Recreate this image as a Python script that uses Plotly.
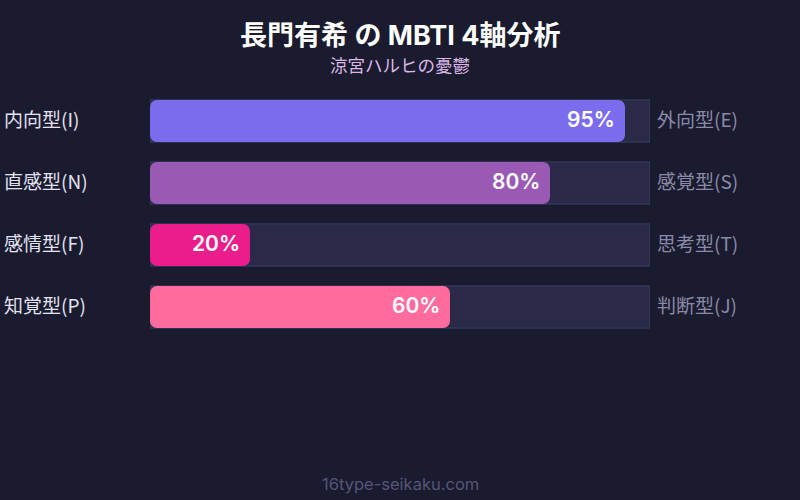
import plotly.graph_objects as go

left_labels = ["内向型(I)", "直感型(N)", "感情型(F)", "知覚型(P)"]
right_labels = ["外向型(E)", "感覚型(S)", "思考型(T)", "判断型(J)"]
values = [95, 80, 20, 60]
colors = ["#7b6cee", "#9b59b6", "#e91e8c", "#ff6b9d"]
title = "長門有希 の MBTI 4軸分析"
subtitle = "涼宮ハルヒの憂鬱"
footer = "16type-seikaku.com"

FONT = "Inter, 'Noto Sans CJK JP', sans-serif"
CJK = "'Noto Sans CJK JP', Inter, sans-serif"
BG = "#1a1b2e"
ypos = list(range(len(values)))
PLOT_H = 248  # px, plot area height (t=90, b=162)
BAR_W = 0.68

def py(pix):
    """pixel y from top -> paper y"""
    return (338 - pix) / PLOT_H

fig = go.Figure()
# explicit base so that both ends of each bar get rounded corners
fig.add_trace(go.Bar(
    x=values, base=[0] * len(values), y=ypos, orientation="h", width=BAR_W,
    marker=dict(color=colors, line=dict(width=0), cornerradius=7),
    hoverinfo="skip", showlegend=False,
))

shapes = []
for i in ypos:
    shapes.append(dict(type="rect", xref="x", yref="y", x0=0, x1=100,
                       y0=i - BAR_W / 2, y1=i + BAR_W / 2, layer="below",
                       fillcolor="#2a2a48", line=dict(color="#3e3e62", width=1)))

ann = []
for i, (v, l, r) in enumerate(zip(values, left_labels, right_labels)):
    ann.append(dict(x=v, y=i, xref="x", yref="y", text=f"{v}%", showarrow=False, yshift=2,
                    xanchor="right", xshift=-8, font=dict(size=21, color="#ffffff", family=FONT, weight=600)))
    ann.append(dict(x=-0.296, y=i, xref="paper", yref="y", text=l, showarrow=False, yshift=3,
                    xanchor="left", font=dict(size=19, color="#e2e2f2", family=CJK)))
    ann.append(dict(x=1.01, y=i, xref="paper", yref="y", text=r, showarrow=False, yshift=3,
                    xanchor="left", font=dict(size=19, color="#8a8aa8", family=CJK)))

ann.append(dict(x=0.5, y=py(35), xref="paper", yref="paper", text=f"<b>{title}</b>",
                showarrow=False, yanchor="middle", font=dict(size=27, color="#ffffff", family=FONT)))
ann.append(dict(x=0.5, y=py(64), xref="paper", yref="paper", text=subtitle,
                showarrow=False, yanchor="middle", font=dict(size=17.5, color="#dcb8e6", family=CJK)))
ann.append(dict(x=0.5, y=py(484), xref="paper", yref="paper", text=footer,
                showarrow=False, yanchor="middle", font=dict(size=16.5, color="#55557a", family=FONT)))

fig.update_layout(
    width=800, height=500,
    paper_bgcolor=BG, plot_bgcolor=BG,
    margin=dict(l=150, r=150, t=90, b=162),
    barmode="overlay",
    xaxis=dict(range=[0, 100], visible=False, fixedrange=True),
    yaxis=dict(range=[3.5, -0.5], visible=False, fixedrange=True),
    annotations=ann,
    shapes=shapes,
    font=dict(family=FONT),
)

fig.write_html("out.html", config={"displayModeBar": False},
               post_script="document.body.style.margin='0';document.body.style.background='#1a1b2e';")
